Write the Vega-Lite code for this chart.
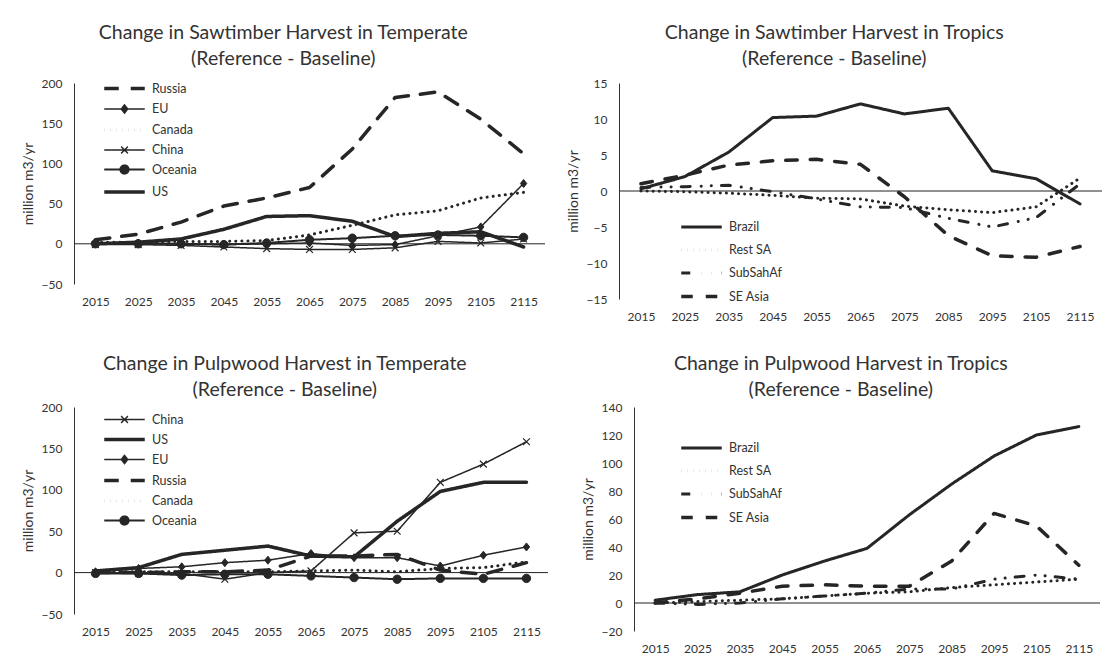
{
  "$schema": "https://vega.github.io/schema/vega-lite/v6.json",
  "padding": {"left": 21, "top": 22, "right": 0, "bottom": 0},
  "background": "white",
  "spacing": 31,
  "resolve": {"scale": {"x": "independent", "y": "independent", "strokeDash": "independent", "strokeWidth": "independent", "shape": "independent"}, "legend": {"strokeDash": "independent", "strokeWidth": "independent", "shape": "independent"}},
  "config": {
    "font": "Lato",
    "view": {"stroke": null},
    "axis": {"grid": false, "ticks": false, "labelFont": "Lato", "labelFontSize": 12, "labelColor": "#333333", "titleFont": "Lato", "titleFontSize": 14, "titleFontWeight": "normal", "titleColor": "#333333", "domainColor": "#333333", "labelOverlap": false},
    "title": {"font": "Lato", "fontSize": 19.5, "fontWeight": "normal", "color": "#333333", "anchor": "middle", "frame": "bounds", "lineHeight": 26},
    "legend": {"labelFont": "Lato", "labelFontSize": 12.5, "labelColor": "#333333", "symbolSize": 225, "padding": 0, "labelOffset": 18, "title": null}
  },
  "datasets": {
    "st_temp": [
      {"year":"2015","series":"Russia","value":5},{"year":"2025","series":"Russia","value":12},{"year":"2035","series":"Russia","value":27},{"year":"2045","series":"Russia","value":47},{"year":"2055","series":"Russia","value":57},{"year":"2065","series":"Russia","value":70},{"year":"2075","series":"Russia","value":118},{"year":"2085","series":"Russia","value":182},{"year":"2095","series":"Russia","value":189},{"year":"2105","series":"Russia","value":155},{"year":"2115","series":"Russia","value":112},
      {"year":"2015","series":"EU","value":0},{"year":"2025","series":"EU","value":1},{"year":"2035","series":"EU","value":0},{"year":"2045","series":"EU","value":-1},{"year":"2055","series":"EU","value":0},{"year":"2065","series":"EU","value":1},{"year":"2075","series":"EU","value":-2},{"year":"2085","series":"EU","value":-1},{"year":"2095","series":"EU","value":10},{"year":"2105","series":"EU","value":21},{"year":"2115","series":"EU","value":75},
      {"year":"2015","series":"Canada","value":2},{"year":"2025","series":"Canada","value":2},{"year":"2035","series":"Canada","value":3},{"year":"2045","series":"Canada","value":3},{"year":"2055","series":"Canada","value":4},{"year":"2065","series":"Canada","value":11},{"year":"2075","series":"Canada","value":23},{"year":"2085","series":"Canada","value":36},{"year":"2095","series":"Canada","value":41},{"year":"2105","series":"Canada","value":57},{"year":"2115","series":"Canada","value":64},
      {"year":"2015","series":"China","value":-1},{"year":"2025","series":"China","value":-1},{"year":"2035","series":"China","value":-2},{"year":"2045","series":"China","value":-4},{"year":"2055","series":"China","value":-6},{"year":"2065","series":"China","value":-7},{"year":"2075","series":"China","value":-7},{"year":"2085","series":"China","value":-5},{"year":"2095","series":"China","value":3},{"year":"2105","series":"China","value":1},{"year":"2115","series":"China","value":6},
      {"year":"2015","series":"Oceania","value":0},{"year":"2025","series":"Oceania","value":0},{"year":"2035","series":"Oceania","value":0},{"year":"2045","series":"Oceania","value":-1},{"year":"2055","series":"Oceania","value":1},{"year":"2065","series":"Oceania","value":5},{"year":"2075","series":"Oceania","value":7},{"year":"2085","series":"Oceania","value":10},{"year":"2095","series":"Oceania","value":11},{"year":"2105","series":"Oceania","value":10},{"year":"2115","series":"Oceania","value":8},
      {"year":"2015","series":"US","value":0},{"year":"2025","series":"US","value":2},{"year":"2035","series":"US","value":6},{"year":"2045","series":"US","value":18},{"year":"2055","series":"US","value":34},{"year":"2065","series":"US","value":35},{"year":"2075","series":"US","value":28},{"year":"2085","series":"US","value":9},{"year":"2095","series":"US","value":13},{"year":"2105","series":"US","value":15},{"year":"2115","series":"US","value":-4}
    ],
    "st_trop": [
      {"year":"2015","series":"Brazil","value":0.3},{"year":"2025","series":"Brazil","value":2},{"year":"2035","series":"Brazil","value":5.4},{"year":"2045","series":"Brazil","value":10.2},{"year":"2055","series":"Brazil","value":10.4},{"year":"2065","series":"Brazil","value":12.1},{"year":"2075","series":"Brazil","value":10.7},{"year":"2085","series":"Brazil","value":11.5},{"year":"2095","series":"Brazil","value":2.8},{"year":"2105","series":"Brazil","value":1.7},{"year":"2115","series":"Brazil","value":-1.8},
      {"year":"2015","series":"Rest SA","value":0},{"year":"2025","series":"Rest SA","value":-0.1},{"year":"2035","series":"Rest SA","value":-0.3},{"year":"2045","series":"Rest SA","value":-0.6},{"year":"2055","series":"Rest SA","value":-1.0},{"year":"2065","series":"Rest SA","value":-1.1},{"year":"2075","series":"Rest SA","value":-2.1},{"year":"2085","series":"Rest SA","value":-2.6},{"year":"2095","series":"Rest SA","value":-3.0},{"year":"2105","series":"Rest SA","value":-2.2},{"year":"2115","series":"Rest SA","value":1.8},
      {"year":"2015","series":"SubSahAf","value":0.5},{"year":"2025","series":"SubSahAf","value":0.6},{"year":"2035","series":"SubSahAf","value":0.8},{"year":"2045","series":"SubSahAf","value":-0.1},{"year":"2055","series":"SubSahAf","value":-1.1},{"year":"2065","series":"SubSahAf","value":-2.2},{"year":"2075","series":"SubSahAf","value":-2.3},{"year":"2085","series":"SubSahAf","value":-3.8},{"year":"2095","series":"SubSahAf","value":-5.0},{"year":"2105","series":"SubSahAf","value":-3.7},{"year":"2115","series":"SubSahAf","value":1.0},
      {"year":"2015","series":"SE Asia","value":1.0},{"year":"2025","series":"SE Asia","value":2.2},{"year":"2035","series":"SE Asia","value":3.6},{"year":"2045","series":"SE Asia","value":4.2},{"year":"2055","series":"SE Asia","value":4.4},{"year":"2065","series":"SE Asia","value":3.7},{"year":"2075","series":"SE Asia","value":-0.8},{"year":"2085","series":"SE Asia","value":-6.2},{"year":"2095","series":"SE Asia","value":-9.0},{"year":"2105","series":"SE Asia","value":-9.2},{"year":"2115","series":"SE Asia","value":-7.7}
    ],
    "pw_temp": [
      {"year":"2015","series":"China","value":0},{"year":"2025","series":"China","value":-1},{"year":"2035","series":"China","value":-1},{"year":"2045","series":"China","value":-8},{"year":"2055","series":"China","value":0},{"year":"2065","series":"China","value":2},{"year":"2075","series":"China","value":48},{"year":"2085","series":"China","value":50},{"year":"2095","series":"China","value":109},{"year":"2105","series":"China","value":131},{"year":"2115","series":"China","value":158},
      {"year":"2015","series":"US","value":2},{"year":"2025","series":"US","value":6},{"year":"2035","series":"US","value":22},{"year":"2045","series":"US","value":27},{"year":"2055","series":"US","value":32},{"year":"2065","series":"US","value":20},{"year":"2075","series":"US","value":19},{"year":"2085","series":"US","value":62},{"year":"2095","series":"US","value":98},{"year":"2105","series":"US","value":109},{"year":"2115","series":"US","value":109},
      {"year":"2015","series":"EU","value":1},{"year":"2025","series":"EU","value":5},{"year":"2035","series":"EU","value":7},{"year":"2045","series":"EU","value":12},{"year":"2055","series":"EU","value":15},{"year":"2065","series":"EU","value":23},{"year":"2075","series":"EU","value":18},{"year":"2085","series":"EU","value":18},{"year":"2095","series":"EU","value":8},{"year":"2105","series":"EU","value":21},{"year":"2115","series":"EU","value":31},
      {"year":"2015","series":"Russia","value":0},{"year":"2025","series":"Russia","value":0},{"year":"2035","series":"Russia","value":1},{"year":"2045","series":"Russia","value":1},{"year":"2055","series":"Russia","value":3},{"year":"2065","series":"Russia","value":20},{"year":"2075","series":"Russia","value":20},{"year":"2085","series":"Russia","value":22},{"year":"2095","series":"Russia","value":3},{"year":"2105","series":"Russia","value":-2},{"year":"2115","series":"Russia","value":12},
      {"year":"2015","series":"Canada","value":1},{"year":"2025","series":"Canada","value":1},{"year":"2035","series":"Canada","value":1},{"year":"2045","series":"Canada","value":1},{"year":"2055","series":"Canada","value":1},{"year":"2065","series":"Canada","value":2},{"year":"2075","series":"Canada","value":3},{"year":"2085","series":"Canada","value":1},{"year":"2095","series":"Canada","value":5},{"year":"2105","series":"Canada","value":6},{"year":"2115","series":"Canada","value":13},
      {"year":"2015","series":"Oceania","value":-1},{"year":"2025","series":"Oceania","value":-1},{"year":"2035","series":"Oceania","value":-3},{"year":"2045","series":"Oceania","value":-2},{"year":"2055","series":"Oceania","value":-2},{"year":"2065","series":"Oceania","value":-4},{"year":"2075","series":"Oceania","value":-6},{"year":"2085","series":"Oceania","value":-8},{"year":"2095","series":"Oceania","value":-7},{"year":"2105","series":"Oceania","value":-7},{"year":"2115","series":"Oceania","value":-7}
    ],
    "pw_trop": [
      {"year":"2015","series":"Brazil","value":2},{"year":"2025","series":"Brazil","value":6},{"year":"2035","series":"Brazil","value":8},{"year":"2045","series":"Brazil","value":20},{"year":"2055","series":"Brazil","value":30},{"year":"2065","series":"Brazil","value":39},{"year":"2075","series":"Brazil","value":63},{"year":"2085","series":"Brazil","value":85},{"year":"2095","series":"Brazil","value":105},{"year":"2105","series":"Brazil","value":120},{"year":"2115","series":"Brazil","value":126},
      {"year":"2015","series":"Rest SA","value":0},{"year":"2025","series":"Rest SA","value":1},{"year":"2035","series":"Rest SA","value":2},{"year":"2045","series":"Rest SA","value":3},{"year":"2055","series":"Rest SA","value":5},{"year":"2065","series":"Rest SA","value":7},{"year":"2075","series":"Rest SA","value":8},{"year":"2085","series":"Rest SA","value":11},{"year":"2095","series":"Rest SA","value":13},{"year":"2105","series":"Rest SA","value":15},{"year":"2115","series":"Rest SA","value":17},
      {"year":"2015","series":"SubSahAf","value":0},{"year":"2025","series":"SubSahAf","value":-1},{"year":"2035","series":"SubSahAf","value":0},{"year":"2045","series":"SubSahAf","value":3},{"year":"2055","series":"SubSahAf","value":5},{"year":"2065","series":"SubSahAf","value":7},{"year":"2075","series":"SubSahAf","value":10},{"year":"2085","series":"SubSahAf","value":10},{"year":"2095","series":"SubSahAf","value":17},{"year":"2105","series":"SubSahAf","value":20},{"year":"2115","series":"SubSahAf","value":17},
      {"year":"2015","series":"SE Asia","value":0},{"year":"2025","series":"SE Asia","value":3},{"year":"2035","series":"SE Asia","value":7},{"year":"2045","series":"SE Asia","value":12},{"year":"2055","series":"SE Asia","value":13},{"year":"2065","series":"SE Asia","value":12},{"year":"2075","series":"SE Asia","value":12},{"year":"2085","series":"SE Asia","value":30},{"year":"2095","series":"SE Asia","value":64},{"year":"2105","series":"SE Asia","value":55},{"year":"2115","series":"SE Asia","value":27}
    ]
  },
  "vconcat": [
    {
      "spacing": 20,
      "resolve": {"scale": {"x": "independent", "y": "independent", "strokeDash": "independent", "strokeWidth": "independent", "shape": "independent"}, "legend": {"strokeDash": "independent", "strokeWidth": "independent", "shape": "independent"}},
      "hconcat": [
        {
          "width": 471, "height": 201,
          "title": {"text": ["Change in Sawtimber Harvest in Temperate", "(Reference - Baseline)"], "offset": 8},
          "data": {"name": "st_temp"},
          "layer": [
            {"data": {"values": [{}]}, "mark": {"type": "rule", "color": "#222222", "strokeWidth": 1}, "encoding": {"y": {"datum": 0, "type": "quantitative", "scale": {"domain": [-50, 200], "nice": false, "zero": false}, "axis": {"title": "million m3/yr", "values": [-50, 0, 50, 100, 150, 200], "labelPadding": 12, "titlePadding": 6, "labelOverlap": false}}}},
            {
              "mark": {"type": "line", "color": "#262626", "strokeCap": "round", "strokeJoin": "round"},
              "encoding": {
                "x": {"field": "year", "type": "ordinal", "scale": {"type": "point", "padding": 0.5}, "axis": {"title": null, "domain": false, "labelAngle": 0, "labelPadding": 12}},
                "y": {"field": "value", "type": "quantitative", "scale": {"domain": [-50, 200], "nice": false, "zero": false}, "axis": {"title": "million m3/yr", "values": [-50, 0, 50, 100, 150, 200], "labelPadding": 12, "titlePadding": 6, "labelOverlap": false}},
                "strokeDash": {"field": "series", "type": "nominal", "scale": {"domain": ["Russia", "EU", "Canada", "China", "Oceania", "US"], "range": [[14.5, 12], [1, 0], [0.1, 6], [1, 0], [1, 0], [1, 0]]}},
                "strokeWidth": {"field": "series", "type": "nominal", "scale": {"type": "ordinal", "domain": ["Russia", "EU", "Canada", "China", "Oceania", "US"], "range": [3.5, 1.5, 3, 1.5, 2, 3.5]}}
              }
            },
            {"transform": [{"filter": {"field": "series", "equal": "EU"}}], "mark": {"type": "point", "filled": true, "shape": "M0,-1L0.8,0L0,1L-0.8,0Z", "size": 64, "color": "#262626", "stroke": "#262626", "strokeWidth": 1, "opacity": 1}, "encoding": {"x": {"field": "year", "type": "ordinal"}, "y": {"field": "value", "type": "quantitative"}}},
            {"transform": [{"filter": {"field": "series", "equal": "China"}}], "mark": {"type": "point", "filled": true, "shape": "M-0.85,-0.85L0.85,0.85M-0.85,0.85L0.85,-0.85", "size": 64, "color": "#262626", "stroke": "#262626", "strokeWidth": 1.2, "opacity": 1}, "encoding": {"x": {"field": "year", "type": "ordinal"}, "y": {"field": "value", "type": "quantitative"}}},
            {"transform": [{"filter": {"field": "series", "equal": "Oceania"}}], "mark": {"type": "point", "filled": true, "shape": "circle", "size": 70, "color": "#262626", "stroke": "#262626", "strokeWidth": 1, "opacity": 1}, "encoding": {"x": {"field": "year", "type": "ordinal"}, "y": {"field": "value", "type": "quantitative"}}},
            {
              "transform": [{"filter": "false"}],
              "mark": {"type": "point", "filled": true, "color": "#262626", "stroke": "#262626", "opacity": 1, "strokeCap": "round"},
              "encoding": {
                "strokeDash": {"field": "series", "type": "nominal", "scale": {"domain": ["Russia", "EU", "Canada", "China", "Oceania", "US"], "range": [[14.5, 12], [1, 0], [0.1, 6], [1, 0], [1, 0], [1, 0]]},
                  "legend": {"orient": "none", "legendX": 41, "legendY": -4, "rowPadding": 4.5, "symbolFillColor": "#262626", "encode": {"symbols": {"fill": {"value": "#262626"}}}}},
                "strokeWidth": {"field": "series", "type": "nominal", "scale": {"type": "ordinal", "domain": ["Russia", "EU", "Canada", "China", "Oceania", "US"], "range": [3.5, 1.5, 3, 1.5, 2, 3.5]},
                  "legend": {"orient": "none", "legendX": 41, "legendY": -4, "rowPadding": 4.5, "symbolFillColor": "#262626", "encode": {"symbols": {"fill": {"value": "#262626"}}}}},
                "shape": {"field": "series", "type": "nominal", "scale": {"domain": ["Russia", "EU", "Canada", "China", "Oceania", "US"], "range": ["M-2.7,0H2.7", "M-2.7,0H2.7M0,-0.55L0.42,0L0,0.55L-0.42,0Z", "M-2.7,0H2.7", "M-2.7,0H2.7M-0.45,-0.45L0.45,0.45M-0.45,0.45L0.45,-0.45", "M-2.7,0H2.7M0.55,0A0.55,0.55,0,1,1,-0.55,0A0.55,0.55,0,1,1,0.55,0Z", "M-2.7,0H2.7"]},
                  "legend": {"orient": "none", "legendX": 41, "legendY": -4, "rowPadding": 4.5, "symbolFillColor": "#262626", "encode": {"symbols": {"fill": {"value": "#262626"}}}}}
              }
            }
          ]
        },
        {
          "width": 483, "height": 216,
          "title": {"text": ["Change in Sawtimber Harvest in Tropics", "(Reference - Baseline)"], "offset": 8},
          "data": {"name": "st_trop"},
          "layer": [
            {"data": {"values": [{}]}, "mark": {"type": "rule", "color": "#222222", "strokeWidth": 1}, "encoding": {"y": {"datum": 0, "type": "quantitative", "scale": {"domain": [-15, 15], "nice": false, "zero": false}, "axis": {"title": "million m3/yr", "values": [-15, -10, -5, 0, 5, 10, 15], "labelPadding": 12, "titlePadding": 6, "labelOverlap": false}}}},
            {
              "mark": {"type": "line", "color": "#262626", "strokeCap": "round", "strokeJoin": "round"},
              "encoding": {
                "x": {"field": "year", "type": "ordinal", "scale": {"type": "point", "padding": 0.5}, "axis": {"title": null, "domain": false, "labelAngle": 0, "labelPadding": 12}},
                "y": {"field": "value", "type": "quantitative", "scale": {"domain": [-15, 15], "nice": false, "zero": false}, "axis": {"title": "million m3/yr", "values": [-15, -10, -5, 0, 5, 10, 15], "labelPadding": 12, "titlePadding": 6, "labelOverlap": false}},
                "strokeDash": {"field": "series", "type": "nominal", "scale": {"domain": ["Brazil", "Rest SA", "SubSahAf", "SE Asia"], "range": [[1, 0], [0.1, 6], [9, 11, 0.1, 10, 0.1, 10], [11.5, 13]]},
                  "legend": {"orient": "none", "legendX": 73, "legendY": 135, "rowPadding": 7, "symbolType": "M-2.7,0H2.7"}},
                "strokeWidth": {"field": "series", "type": "nominal", "scale": {"type": "ordinal", "domain": ["Brazil", "Rest SA", "SubSahAf", "SE Asia"], "range": [3, 3, 3, 3.5]},
                  "legend": {"orient": "none", "legendX": 73, "legendY": 135, "rowPadding": 7, "symbolType": "M-2.7,0H2.7"}}
              }
            }
          ]
        }
      ]
    },
    {
      "spacing": 32,
      "resolve": {"scale": {"x": "independent", "y": "independent", "strokeDash": "independent", "strokeWidth": "independent", "shape": "independent"}, "legend": {"strokeDash": "independent", "strokeWidth": "independent", "shape": "independent"}},
      "hconcat": [
        {
          "width": 474, "height": 207,
          "title": {"text": ["Change in Pulpwood Harvest in Temperate", "(Reference - Baseline)"], "offset": 1},
          "data": {"name": "pw_temp"},
          "layer": [
            {"data": {"values": [{}]}, "mark": {"type": "rule", "color": "#222222", "strokeWidth": 1}, "encoding": {"y": {"datum": 0, "type": "quantitative", "scale": {"domain": [-50, 200], "nice": false, "zero": false}, "axis": {"title": "million m3/yr", "values": [-50, 0, 50, 100, 150, 200], "labelPadding": 12, "titlePadding": 6, "labelOverlap": false}}}},
            {
              "mark": {"type": "line", "color": "#262626", "strokeCap": "round", "strokeJoin": "round"},
              "encoding": {
                "x": {"field": "year", "type": "ordinal", "scale": {"type": "point", "padding": 0.5}, "axis": {"title": null, "domain": false, "labelAngle": 0, "labelPadding": 12}},
                "y": {"field": "value", "type": "quantitative", "scale": {"domain": [-50, 200], "nice": false, "zero": false}, "axis": {"title": "million m3/yr", "values": [-50, 0, 50, 100, 150, 200], "labelPadding": 12, "titlePadding": 6, "labelOverlap": false}},
                "strokeDash": {"field": "series", "type": "nominal", "scale": {"domain": ["China", "US", "EU", "Russia", "Canada", "Oceania"], "range": [[1, 0], [1, 0], [1, 0], [14.5, 12], [0.1, 6], [1, 0]]}},
                "strokeWidth": {"field": "series", "type": "nominal", "scale": {"type": "ordinal", "domain": ["China", "US", "EU", "Russia", "Canada", "Oceania"], "range": [1.5, 3.5, 1.5, 3.5, 3, 2]}}
              }
            },
            {"transform": [{"filter": {"field": "series", "equal": "EU"}}], "mark": {"type": "point", "filled": true, "shape": "M0,-1L0.8,0L0,1L-0.8,0Z", "size": 64, "color": "#262626", "stroke": "#262626", "strokeWidth": 1, "opacity": 1}, "encoding": {"x": {"field": "year", "type": "ordinal"}, "y": {"field": "value", "type": "quantitative"}}},
            {"transform": [{"filter": {"field": "series", "equal": "China"}}], "mark": {"type": "point", "filled": true, "shape": "M-0.85,-0.85L0.85,0.85M-0.85,0.85L0.85,-0.85", "size": 64, "color": "#262626", "stroke": "#262626", "strokeWidth": 1.2, "opacity": 1}, "encoding": {"x": {"field": "year", "type": "ordinal"}, "y": {"field": "value", "type": "quantitative"}}},
            {"transform": [{"filter": {"field": "series", "equal": "Oceania"}}], "mark": {"type": "point", "filled": true, "shape": "circle", "size": 70, "color": "#262626", "stroke": "#262626", "strokeWidth": 1, "opacity": 1}, "encoding": {"x": {"field": "year", "type": "ordinal"}, "y": {"field": "value", "type": "quantitative"}}},
            {
              "transform": [{"filter": "false"}],
              "mark": {"type": "point", "filled": true, "color": "#262626", "stroke": "#262626", "opacity": 1, "strokeCap": "round"},
              "encoding": {
                "strokeDash": {"field": "series", "type": "nominal", "scale": {"domain": ["China", "US", "EU", "Russia", "Canada", "Oceania"], "range": [[1, 0], [1, 0], [1, 0], [14.5, 12], [0.1, 6], [1, 0]]},
                  "legend": {"orient": "none", "legendX": 41, "legendY": 4, "rowPadding": 4, "symbolFillColor": "#262626", "encode": {"symbols": {"fill": {"value": "#262626"}}}}},
                "strokeWidth": {"field": "series", "type": "nominal", "scale": {"type": "ordinal", "domain": ["China", "US", "EU", "Russia", "Canada", "Oceania"], "range": [1.5, 3.5, 1.5, 3.5, 3, 2]},
                  "legend": {"orient": "none", "legendX": 41, "legendY": 4, "rowPadding": 4, "symbolFillColor": "#262626", "encode": {"symbols": {"fill": {"value": "#262626"}}}}},
                "shape": {"field": "series", "type": "nominal", "scale": {"domain": ["China", "US", "EU", "Russia", "Canada", "Oceania"], "range": ["M-2.7,0H2.7M-0.45,-0.45L0.45,0.45M-0.45,0.45L0.45,-0.45", "M-2.7,0H2.7", "M-2.7,0H2.7M0,-0.55L0.42,0L0,0.55L-0.42,0Z", "M-2.7,0H2.7", "M-2.7,0H2.7", "M-2.7,0H2.7M0.55,0A0.55,0.55,0,1,1,-0.55,0A0.55,0.55,0,1,1,0.55,0Z"]},
                  "legend": {"orient": "none", "legendX": 41, "legendY": 4, "rowPadding": 4, "symbolFillColor": "#262626", "encode": {"symbols": {"fill": {"value": "#262626"}}}}}
              }
            }
          ]
        },
        {
          "width": 466, "height": 224,
          "title": {"text": ["Change in Pulpwood Harvest in Tropics", "(Reference - Baseline)"], "offset": 1},
          "data": {"name": "pw_trop"},
          "layer": [
            {"data": {"values": [{}]}, "mark": {"type": "rule", "color": "#222222", "strokeWidth": 1}, "encoding": {"y": {"datum": 0, "type": "quantitative", "scale": {"domain": [-20, 140], "nice": false, "zero": false}, "axis": {"title": "million m3/yr", "values": [-20, 0, 20, 40, 60, 80, 100, 120, 140], "labelPadding": 12, "titlePadding": 6, "labelOverlap": false}}}},
            {
              "mark": {"type": "line", "color": "#262626", "strokeCap": "round", "strokeJoin": "round"},
              "encoding": {
                "x": {"field": "year", "type": "ordinal", "scale": {"type": "point", "padding": 0.5}, "axis": {"title": null, "domain": false, "labelAngle": 0, "labelPadding": 12}},
                "y": {"field": "value", "type": "quantitative", "scale": {"domain": [-20, 140], "nice": false, "zero": false}, "axis": {"title": "million m3/yr", "values": [-20, 0, 20, 40, 60, 80, 100, 120, 140], "labelPadding": 12, "titlePadding": 6, "labelOverlap": false}},
                "strokeDash": {"field": "series", "type": "nominal", "scale": {"domain": ["Brazil", "Rest SA", "SubSahAf", "SE Asia"], "range": [[1, 0], [0.1, 6], [9, 11, 0.1, 10, 0.1, 10], [11.5, 13]]},
                  "legend": {"orient": "none", "legendX": 58, "legendY": 32, "rowPadding": 7, "symbolType": "M-2.7,0H2.7"}},
                "strokeWidth": {"field": "series", "type": "nominal", "scale": {"type": "ordinal", "domain": ["Brazil", "Rest SA", "SubSahAf", "SE Asia"], "range": [3, 3, 3, 3.5]},
                  "legend": {"orient": "none", "legendX": 58, "legendY": 32, "rowPadding": 7, "symbolType": "M-2.7,0H2.7"}}
              }
            }
          ]
        }
      ]
    }
  ]
}
